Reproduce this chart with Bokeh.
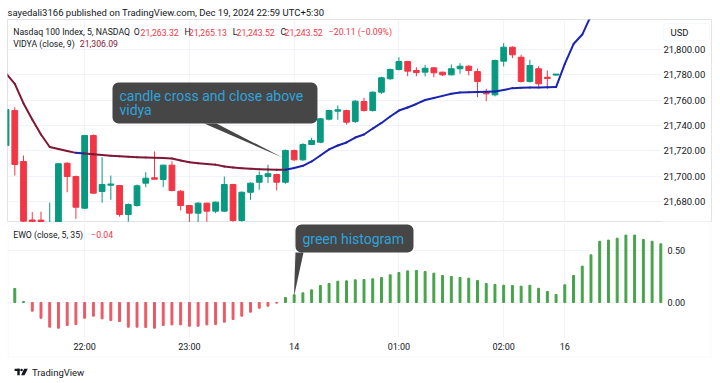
from bokeh.plotting import figure
from bokeh.models import (FixedTicker, NumeralTickFormatter, BoxAnnotation, Label,
                          PolyAnnotation, Range1d, ColumnDataSource, Grid)
from bokeh.core.properties import value
from bokeh.layouts import column
from bokeh.embed import file_html
from bokeh.resources import INLINE

# ---------------- data ----------------
candle_index = list(range(-1, 63))
candle_open = [
    21724.2, 21751.8, 21711.6, 21665.4, 21665.3, 21650.0, 21655.0, 21710.2, 21699.7, 21674.7,
    21732.1, 21687.9, 21692.9, 21692.6, 21669.7, 21676.8, 21694.5, 21698.7, 21697.4, 21708.7,
    21688.1, 21676.8, 21670.8, 21678.7, 21672.4, 21672.4, 21693.4, 21665.0, 21687.3, 21695.2,
    21699.7, 21701.3, 21695.2, 21720.3, 21712.9, 21725.0, 21726.8, 21745.0, 21751.3, 21751.8,
    21743.2, 21758.9, 21751.8, 21766.3, 21776.9, 21784.2, 21790.5, 21783.4, 21782.1, 21785.5,
    21782.1, 21780.0, 21784.8, 21786.8, 21782.6, 21766.8, 21764.2, 21790.8, 21801.8, 21793.9,
    21774.7, 21784.8, 21778.1, 21779.8]
candle_high = [
    21754.0, 21754.4, 21716.3, 21671.6, 21672.0, 21679.2, 21710.3, 21711.0, 21700.5, 21732.6,
    21733.0, 21715.0, 21700.5, 21693.0, 21678.5, 21693.4, 21703.1, 21719.5, 21709.0, 21711.8,
    21689.0, 21677.0, 21679.5, 21679.0, 21680.0, 21699.7, 21694.0, 21688.0, 21695.0, 21703.7,
    21709.0, 21702.0, 21721.0, 21721.0, 21726.0, 21730.3, 21746.0, 21752.5, 21755.8, 21752.5,
    21760.0, 21761.9, 21767.0, 21778.5, 21785.0, 21793.9, 21791.0, 21786.0, 21787.9, 21786.0,
    21782.5, 21788.2, 21789.2, 21787.5, 21785.0, 21769.0, 21792.0, 21805.0, 21802.5, 21795.8,
    21791.9, 21786.8, 21783.4, 21780.5]
candle_low = [
    21720.0, 21700.5, 21663.5, 21663.6, 21663.6, 21645.0, 21650.0, 21687.3, 21666.3, 21674.0,
    21686.0, 21679.0, 21681.3, 21668.0, 21664.0, 21676.0, 21691.3, 21697.5, 21691.3, 21688.0,
    21672.9, 21663.5, 21663.5, 21664.0, 21670.8, 21672.0, 21664.0, 21664.0, 21681.3, 21689.2,
    21694.5, 21688.7, 21694.0, 21712.0, 21712.0, 21724.5, 21726.0, 21744.0, 21744.5, 21740.8,
    21742.0, 21751.0, 21751.0, 21765.0, 21776.0, 21783.5, 21778.9, 21778.9, 21778.7, 21778.1,
    21779.0, 21779.5, 21780.8, 21779.5, 21762.3, 21759.2, 21763.0, 21786.6, 21793.1, 21774.0,
    21774.0, 21770.8, 21769.0, 21779.5]
candle_close = [
    21752.6, 21709.2, 21664.5, 21664.0, 21664.2, 21658.0, 21709.8, 21699.7, 21675.5, 21732.1,
    21686.6, 21693.4, 21693.8, 21669.7, 21677.6, 21692.4, 21698.4, 21697.6, 21708.7, 21688.7,
    21676.8, 21670.8, 21678.7, 21672.4, 21679.5, 21693.4, 21665.0, 21687.3, 21694.5, 21700.5,
    21701.9, 21695.2, 21720.3, 21712.9, 21725.0, 21728.2, 21745.3, 21751.8, 21752.4, 21742.6,
    21759.2, 21751.8, 21766.3, 21777.7, 21784.2, 21790.5, 21782.9, 21781.8, 21785.2, 21781.6,
    21780.0, 21784.8, 21786.8, 21783.4, 21774.7, 21765.0, 21791.3, 21801.8, 21795.8, 21774.7,
    21787.4, 21772.9, 21777.1, 21780.6]

vidya_index = list(range(-1, 67))
vidya_values = [
    21781.1, 21772.9, 21757.4, 21744.7, 21732.9, 21723.0, 21721.4, 21719.9, 21718.4, 21717.9,
    21717.3, 21716.7, 21716.1, 21715.7, 21715.3, 21715.0, 21714.7, 21714.5, 21714.3, 21713.9,
    21712.4, 21711.0, 21710.2, 21709.6, 21709.1, 21707.6, 21706.8, 21706.3, 21705.8, 21705.5,
    21705.3, 21705.0, 21705.0, 21706.4, 21708.2, 21711.6, 21716.3, 21721.1, 21724.2, 21726.6,
    21730.5, 21732.9, 21737.6, 21742.0, 21747.1, 21751.8, 21754.2, 21757.0, 21760.1, 21761.7,
    21763.4, 21765.0, 21766.1, 21766.3, 21766.4, 21766.6, 21766.9, 21768.0, 21769.5, 21769.8,
    21769.9, 21770.0, 21770.2, 21770.3, 21788.6, 21804.3, 21811.8, 21826.8]
# 1 = segment ending on this bar drawn blue (price above VIDYA), 0 = maroon
vidya_above = [
    0, 0, 0, 0, 0, 0, 0, 0, 0, 1,
    0, 0, 0, 0, 0, 0, 0, 0, 0, 0,
    0, 0, 0, 0, 0, 0, 0, 0, 0, 0,
    0, 0, 0, 1, 1, 1, 1, 1, 1, 1,
    1, 1, 1, 1, 1, 1, 1, 1, 1, 1,
    1, 1, 1, 1, 1, 1, 1, 1, 1, 1,
    1, 1, 1, 1, 1, 1, 1, 1]

ewo_index = list(range(0, 75))
ewo_values = [
    0.135, 0.010, -0.083, -0.151, -0.237, -0.247, -0.221, -0.212, -0.151, -0.131,
    -0.157, -0.173, -0.183, -0.237, -0.237, -0.240, -0.247, -0.221, -0.215, -0.215,
    -0.228, -0.228, -0.215, -0.212, -0.189, -0.163, -0.131, -0.093, -0.055, -0.035,
    -0.006, 0.048, 0.074, 0.093, 0.122, 0.163, 0.183, 0.205, 0.208, 0.218,
    0.221, 0.228, 0.240, 0.266, 0.288, 0.304, 0.308, 0.298, 0.282, 0.260,
    0.250, 0.240, 0.234, 0.211, 0.183, 0.173, 0.166, 0.163, 0.157, 0.166,
    0.137, 0.106, 0.077, 0.170, 0.260, 0.350, 0.458, 0.589, 0.600, 0.618,
    0.648, 0.648, 0.606, 0.589, 0.564]

price_ticks = [21680, 21700, 21720, 21740, 21760, 21780, 21800]
ewo_ticks = [0.0, 0.5]
time_tick_index = [8, 20, 32, 44, 56, 63]
time_tick_labels = ["22:00", "23:00", "14", "01:00", "02:00", "16"]

# drawings (anchored in data space like TradingView callouts)
callout1_box = dict(left=11.19, right=34.67, top=21773.9, bottom=21741.6)
callout1_ptr_x = [21.7, 23.1, 30.66]
callout1_ptr_y = [21741.6, 21741.6, 21714.7]
callout1_lines = ["candle cross and close above", "vidya"]
callout1_text_x = 11.99
callout1_text_y = [21763.3, 21752.2]

callout2_box = dict(left=32.15, right=45.67, top=0.75, bottom=0.481)
callout2_ptr_x = [32.15, 33.07, 31.98]
callout2_ptr_y = [0.481, 0.481, 0.058]
callout2_text = "green histogram"
callout2_text_x = 32.95
callout2_text_y = 0.615

# ---------------- style / geometry ----------------
FONT = "Roboto"
TXT = "#131722"
GRID_C = "#f0f3fa"
BORDER = "#e0e3eb"
UP = "#089981"
DOWN = "#F23645"
MAROON = "#7f1734"
BLUE = "#1b24b0"
H_UP = "#45a349"
H_DN = "#e85a64"
CALLOUT_BG = "#464646"
CALLOUT_TX = "#2fa3db"

W = 720
FR_L, FR_R = 7, 711            # chart box, pixels
P1_TOP, P1_BOT = 19, 222       # price pane
P2_TOP, P2_BOT = 222, 357      # indicator pane (incl. time scale)
SCALE_X = 661                  # left edge of the price scale
TIME_Y = 337                   # top of the time scale
X0, X1 = -0.8362, 79.805       # bar index at FR_L / FR_R
PR0, PR1 = 21663.42, 21823.68  # price at P1_BOT / P1_TOP
E0, E1 = -0.5288, 0.7692       # EWO at P2_BOT / P2_TOP

x_range = Range1d(X0, X1)


def px2x(px):
    return X0 + (px - FR_L) * (X1 - X0) / (FR_R - FR_L)


def py2p(py):
    return PR1 - (py - P1_TOP) * (PR1 - PR0) / (P1_BOT - P1_TOP)


def py2e(py):
    return E1 - (py - P2_TOP) * (E1 - E0) / (P2_BOT - P2_TOP)


def style_axis(ax, standoff, size="9px"):
    ax.axis_line_color = None
    ax.major_tick_line_color = None
    ax.minor_tick_line_color = None
    ax.major_tick_out = 0
    ax.major_tick_in = 0
    ax.major_label_standoff = standoff
    ax.major_label_text_font = FONT
    ax.major_label_text_font_size = size
    ax.major_label_text_color = TXT


def canvas_label(p, x, y, text, color=TXT, size="8.7px"):
    p.add_layout(Label(x=x, y=y, x_units="canvas", y_units="canvas", text=text,
                       text_font=FONT, text_font_size=size, text_color=color,
                       text_baseline="middle", text_align="left"))


# ---------------- price pane ----------------
p1 = figure(width=W, height=P1_BOT, x_range=x_range, y_range=Range1d(PR0, PR1),
            output_backend="svg", toolbar_location=None, x_axis_location=None,
            y_axis_location="right", min_border_left=FR_L, min_border_right=W - FR_R,
            min_border_top=P1_TOP, min_border_bottom=0)
p1.outline_line_color = BORDER
p1.title.text = "sayedali3166 published on TradingView.com, Dec 19, 2024 22:59 UTC+5:30"
p1.title.text_font = FONT
p1.title.text_font_size = "9.5px"
p1.title.text_font_style = "normal"
p1.title.text_color = TXT
p1.title.align = "left"
p1.title.standoff = 3
p1.title.offset = 0
p1.center = [r for r in p1.center if not isinstance(r, Grid)]
p1.add_layout(Grid(dimension=0, ticker=FixedTicker(ticks=time_tick_index), grid_line_color=GRID_C))
p1.add_layout(Grid(dimension=1, ticker=FixedTicker(ticks=price_ticks), grid_line_color=GRID_C))
# keep the price-scale strip free of grid lines
p1.add_layout(BoxAnnotation(left=px2x(SCALE_X), right=px2x(FR_R - 1), top=py2p(P1_TOP + 1),
                            bottom=py2p(P1_BOT - 1), fill_color="white", fill_alpha=1,
                            line_color=None, level="underlay"))
ya = p1.yaxis[0]
ya.ticker = FixedTicker(ticks=price_ticks)
ya.formatter = NumeralTickFormatter(format="0,0.00")
ya.fixed_location = px2x(SCALE_X)
style_axis(ya, 2, "9.5px")

cs = ColumnDataSource(dict(
    x=candle_index, o=candle_open, h=candle_high, l=candle_low, c=candle_close,
    top=[max(a, b) for a, b in zip(candle_open, candle_close)],
    bottom=[min(a, b) for a, b in zip(candle_open, candle_close)],
    color=[UP if c >= o else DOWN for o, c in zip(candle_open, candle_close)]))
p1.segment(x0="x", y0="h", x1="x", y1="l", line_color="color", line_width=1, source=cs)
p1.vbar(x="x", width=0.66, top="top", bottom="bottom", fill_color="color",
        line_color="color", line_width=1, source=cs)

vs = ColumnDataSource(dict(
    x0=vidya_index[:-1], x1=vidya_index[1:], y0=vidya_values[:-1], y1=vidya_values[1:],
    color=[BLUE if a else MAROON for a in vidya_above[1:]]))
p1.segment(x0="x0", y0="y0", x1="x1", y1="y1", line_color="color", line_width=2,
           line_cap="round", source=vs)

# callout 1
p1.add_layout(PolyAnnotation(xs=callout1_ptr_x, ys=callout1_ptr_y, fill_color=CALLOUT_BG,
                             fill_alpha=1, line_color=None))
p1.add_layout(BoxAnnotation(fill_color=CALLOUT_BG, fill_alpha=1, line_color=None,
                            border_radius=6, **callout1_box))
for t, ty in zip(callout1_lines, callout1_text_y):
    p1.add_layout(Label(x=callout1_text_x, y=ty, text=t, text_font=FONT, text_font_size="14px",
                        text_color=CALLOUT_TX, text_baseline="middle"))

# USD badge + legends
p1.add_layout(BoxAnnotation(left=px2x(663), right=px2x(709), top=py2p(23), bottom=py2p(40),
                            fill_color="white", fill_alpha=1, line_color=BORDER,
                            line_width=1, border_radius=3))
canvas_label(p1, 670, 31.7, "USD", size="9.5px")
canvas_label(p1, 12.7, 31.5, "Nasdaq 100 Index, 5, NASDAQ")
for tx, t, col in [(133.3, "O", TXT), (140, "21,263.32", DOWN), (184, "H", TXT),
                   (188.3, "21,265.13", DOWN), (232.3, "L", TXT), (236, "21,243.52", DOWN),
                   (280, "C", TXT), (284, "21,243.52", DOWN), (328.3, "\u221220.11 (\u22120.09%)", DOWN)]:
    canvas_label(p1, tx, 31.5, t, color=col)
canvas_label(p1, 12.7, 43.3, "VIDYA (close, 9)")
canvas_label(p1, 79.3, 43.3, "21,306.09", color=MAROON)

# ---------------- EWO pane ----------------
H2 = P2_BOT + 1 - P2_TOP
p2 = figure(width=W, height=H2, x_range=x_range, y_range=Range1d(E0, E1),
            output_backend="svg", toolbar_location=None, y_axis_location="right",
            min_border_left=FR_L, min_border_right=W - FR_R, min_border_top=0,
            min_border_bottom=1)
p2.outline_line_color = None
p2.center = [r for r in p2.center if not isinstance(r, Grid)]
p2.add_layout(Grid(dimension=0, ticker=FixedTicker(ticks=time_tick_index), grid_line_color=GRID_C))
p2.add_layout(Grid(dimension=1, ticker=FixedTicker(ticks=ewo_ticks), grid_line_color=GRID_C))
p2.add_layout(BoxAnnotation(left=px2x(SCALE_X), right=px2x(FR_R - 1), top=py2e(P2_TOP + 0.5),
                            bottom=py2e(P2_BOT - 1), fill_color="white", fill_alpha=1,
                            line_color=None, level="underlay"))
p2.add_layout(BoxAnnotation(left=px2x(FR_L + 1), right=px2x(FR_R - 1), top=py2e(TIME_Y),
                            bottom=py2e(P2_BOT - 1), fill_color="white", fill_alpha=1,
                            line_color=None, level="underlay"))
ea = p2.yaxis[0]
ea.ticker = FixedTicker(ticks=ewo_ticks)
ea.formatter = NumeralTickFormatter(format="0.00")
ea.fixed_location = px2x(SCALE_X)
style_axis(ea, 6)
xa = p2.xaxis[0]
xa.ticker = FixedTicker(ticks=time_tick_index)
xa.major_label_overrides = dict(zip(time_tick_index, time_tick_labels))
xa.fixed_location = py2e(TIME_Y)
style_axis(xa, 4)

p2.vbar(x=ewo_index, width=0.22, top=ewo_values, bottom=0,
        color=[H_UP if v > 0 else H_DN for v in ewo_values])

# callout 2
p2.add_layout(PolyAnnotation(xs=callout2_ptr_x, ys=callout2_ptr_y, fill_color=CALLOUT_BG,
                             fill_alpha=1, line_color=None))
p2.add_layout(BoxAnnotation(fill_color=CALLOUT_BG, fill_alpha=1, line_color=None,
                            border_radius=6, **callout2_box))
p2.add_layout(Label(x=callout2_text_x, y=callout2_text_y, text=callout2_text, text_font=FONT,
                    text_font_size="14px", text_color=CALLOUT_TX, text_baseline="middle"))

# chart box: left, right and bottom sides (top side is the pane separator drawn by p1)
p2.add_layout(BoxAnnotation(left=px2x(FR_L + 0.5), right=px2x(FR_R - 0.5), top=py2e(P2_TOP - 10),
                            bottom=py2e(P2_BOT - 0.5), fill_alpha=0, line_color=BORDER,
                            line_width=1))
canvas_label(p2, 12.7, 12, "EWO (close, 5, 35)")
canvas_label(p2, 90.7, 12, "\u22120.04", color=DOWN)

# ---------------- footer: TradingView mark ----------------
H3 = 383 - (P2_BOT + 1)
p3 = figure(width=W, height=H3, x_range=Range1d(0, W), y_range=Range1d(H3, 0),
            output_backend="svg", toolbar_location=None, x_axis_location=None,
            y_axis_location=None, min_border=0)
p3.outline_line_color = None
p3.grid.visible = False
LOGO = "#131722"
logo_bars_l = [7.3, 10.0]
logo_bars_r = [12.5, 12.5]
logo_bars_t = [10.2, 10.2]
logo_bars_b = [12.6, 16.8]
p3.quad(left=logo_bars_l, right=logo_bars_r, top=logo_bars_t, bottom=logo_bars_b,
        fill_color=LOGO, line_color=None)
p3.circle(x=[14.4], y=[11.4], radius=1.3, fill_color=LOGO, line_color=None)
p3.patch(x=[17.0, 20.8, 17.4, 13.9], y=[10.2, 10.2, 16.8, 16.8], fill_color=LOGO, line_color=None)
p3.text(x=[25], y=[13.8], text=["TradingView"], text_font=value(FONT), text_font_size="9.5px",
        text_color=LOGO, text_baseline="middle")

layout = column(p1, p2, p3)
open("out.html", "w").write(file_html(layout, INLINE, "chart"))
